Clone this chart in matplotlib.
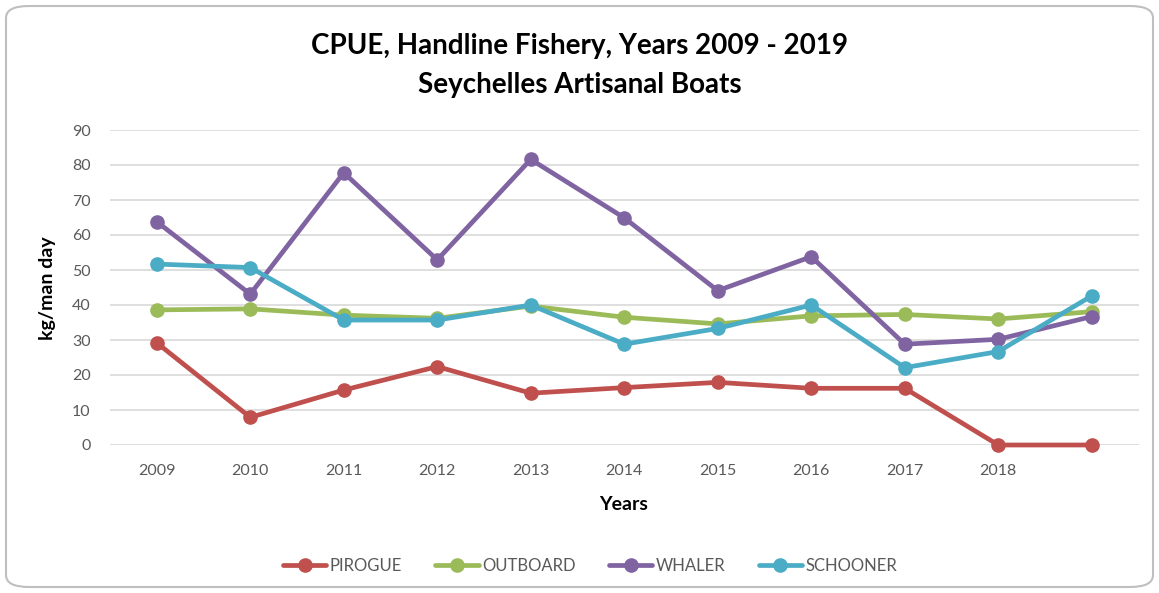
import matplotlib
matplotlib.use("Agg")
import matplotlib.pyplot as plt
from matplotlib.patches import FancyBboxPatch

years = ["2009", "2010", "2011", "2012", "2013", "2014", "2015", "2016", "2017", "2018", ""]
pirogue = [29.2, 7.9, 15.7, 22.4, 14.8, 16.4, 17.9, 16.2, 16.2, 0.0, 0.0]
outboard = [38.6, 38.9, 37.1, 36.2, 39.7, 36.5, 34.6, 36.9, 37.3, 36.0, 38.1]
whaler = [63.8, 43.1, 77.8, 52.9, 81.6, 64.9, 44.1, 53.8, 28.8, 30.2, 36.7]
schooner = [51.7, 50.7, 35.7, 35.7, 40.0, 28.8, 33.3, 40.0, 22.1, 26.7, 42.6]

series = [("PIROGUE", pirogue, "#c0504d"),
          ("OUTBOARD", outboard, "#9bbb59"),
          ("WHALER", whaler, "#8064a2"),
          ("SCHOONER", schooner, "#4bacc6")]

plt.rcParams['font.family'] = ['Lato', 'DejaVu Sans']

W, H = 1159, 593
fig = plt.figure(figsize=(W / 100, H / 100), dpi=100)
fig.patch.set_facecolor("white")

# rounded border
border = FancyBboxPatch((6 / W, 6 / H), (W - 12) / W, (H - 12) / H,
                        boxstyle="round,pad=0,rounding_size=0.02",
                        transform=fig.transFigure, facecolor="none",
                        edgecolor="#bfbfbf", linewidth=1.5, zorder=-1)
fig.patches.append(border)

left, right = 110 / W, 1138.5 / W
bottom, top = 1 - 445 / H, 1 - 130 / H
ax = fig.add_axes([left, bottom, right - left, top - bottom])
ax.set_facecolor("none")

x = list(range(len(years)))
for name, vals, col in series:
    ax.plot(x, vals, color=col, lw=3.4, marker="o", ms=9.5, label=name,
            solid_capstyle="round", zorder=3, clip_on=False)

ax.set_xlim(-0.5, len(years) - 0.5)
ax.set_ylim(0, 90)
ax.set_yticks(range(0, 91, 10))
ax.set_xticks(x)
ax.set_xticklabels(years)
ax.grid(axis="y", color="#d9d9d9", lw=1.2, zorder=0)
ax.set_axisbelow(True)
for s in ax.spines.values():
    s.set_visible(False)
ax.tick_params(axis="both", length=0, labelsize=11.5, colors="#595959")
ax.tick_params(axis="x", pad=14)
ax.tick_params(axis="y", pad=14)

fig.text(0.5, 1 - 46 / H, "CPUE, Handline Fishery, Years 2009 - 2019",
         ha="center", va="center", fontsize=20, fontweight="bold", color="black")
fig.text(0.5, 1 - 85 / H, "Seychelles Artisanal Boats",
         ha="center", va="center", fontsize=20, fontweight="bold", color="black")
fig.text(48 / W, 1 - 288 / H, "kg/man day", rotation=90, ha="center", va="center",
         fontsize=14, fontweight="bold", color="black")
fig.text(624 / W, 1 - 505 / H, "Years", ha="center", va="center",
         fontsize=14, fontweight="bold", color="black")

leg = fig.legend(loc="center", bbox_to_anchor=(590 / W, 1 - 566 / H), ncol=4,
                 frameon=False, fontsize=12, handlelength=2.6, columnspacing=2.0,
                 handletextpad=0.2, labelcolor="#595959")

fig.savefig("out.png", dpi=100, facecolor="white")
